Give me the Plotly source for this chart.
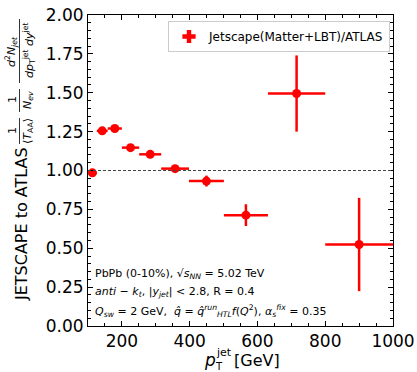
import plotly.graph_objects as go

# JETSCAPE (MATTER+LBT) / ATLAS jet spectrum ratio, PbPb 0-10%
bin_lo = [100, 126, 158, 200, 251, 316, 398, 501, 631, 800]
bin_hi = [126, 158, 200, 251, 316, 398, 501, 631, 800, 1000]
ratio = [0.985, 1.255, 1.27, 1.147, 1.104, 1.012, 0.932, 0.713, 1.495, 0.524]
ratio_err = [0.012, 0.012, 0.012, 0.012, 0.012, 0.015, 0.035, 0.07, 0.245, 0.30]

x_mid = [(a + b) / 2 for a, b in zip(bin_lo, bin_hi)]
x_half = [(b - a) / 2 for a, b in zip(bin_lo, bin_hi)]

W, H = 417, 372
L, R, T, B = 88, 393, 15, 326
FONT = "DejaVu Sans"
RED = "#ff0000"


def px(x):
    return (x - L) / (R - L)


def py(y):
    return (B - y) / (B - T)


fig = go.Figure()

fig.add_trace(go.Scatter(
    x=x_mid, y=ratio,
    mode="markers",
    marker=dict(color=RED, size=9, symbol="circle"),
    error_x=dict(type="data", array=x_half, color=RED, thickness=2.5, width=0),
    error_y=dict(type="data", array=ratio_err, color=RED, thickness=2.5, width=0),
    showlegend=False,
))

# legend entry drawn with a cross-shaped marker like an errorbar glyph
fig.add_trace(go.Scatter(
    x=[None], y=[None], mode="markers",
    marker=dict(color=RED, size=11, symbol="cross"),
    name="Jetscape(Matter+LBT)/ATLAS",
))

# reference line at unity
fig.add_shape(type="line", xref="paper", yref="y", x0=0, x1=1, y0=1, y1=1,
              line=dict(color="#444444", width=1, dash="3px,2px"))

ann = []


def text(x, y, s, size, angle=0, xanchor="center", yanchor="middle"):
    ann.append(dict(x=px(x), y=py(y), xref="paper", yref="paper", text=s,
                    showarrow=False, textangle=angle, xanchor=xanchor,
                    yanchor=yanchor, font=dict(family=FONT, size=size, color="black")))


# y-axis title built from rotated pieces
text(22, 224, "JETSCAPE to ATLAS", 16, angle=-90)
text(12, 131, "1", 11, angle=-90)
text(28, 131, "⟨<i>T</i><sub>AA</sub>⟩", 11, angle=-90)
text(12, 100, "1", 11, angle=-90)
text(28, 100, "<i>N</i><sub><i>ev</i></sub>", 11, angle=-90)
text(11, 51, "<i>d</i><sup>2</sup><i>N</i><sub><i>jet</i></sub>", 11, angle=-90)
text(29, 51, "<i>dp</i><sub>T</sub><sup>jet</sup> <i>dy</i><sup>jet</sup>", 11, angle=-90)
for y0, y1 in [(118, 144), (89, 112), (19, 83)]:
    fig.add_shape(type="line", xref="paper", yref="paper",
                  x0=px(19.5), x1=px(19.5), y0=py(y0), y1=py(y1),
                  line=dict(color="black", width=0.8))

# x-axis title
text(210, 360, "<i>p</i>", 17)
text(224, 352, "jet", 11)
text(219, 366, "T", 10)
text(257, 360, "[GeV]", 16)

# collision system / setup labels
text(93, 274, "PbPb (0-10%), √<i>s</i><sub><i>NN</i></sub> = 5.02 TeV", 11, xanchor="left")
text(93, 292, "<i>anti</i> − <i>k</i><sub><i>t</i></sub>, |<i>y</i><sub><i>jet</i></sub>| &lt; 2.8, R = 0.4",
     11, xanchor="left")
text(93, 311, "<i>Q</i><sub><i>sw</i></sub> = 2 GeV,  <i>q̂</i> = <i>q̂</i><sup><i>run</i></sup><sub><i>HTL</i></sub>"
     "<i>f</i>(<i>Q</i><sup>2</sup>), <i>α</i><sub><i>s</i></sub><sup><i>fix</i></sup> = 0.35",
     11, xanchor="left")

axis_common = dict(
    showline=True, linecolor="black", linewidth=1, mirror="allticks",
    ticks="inside", ticklen=5, tickwidth=1, tickcolor="black",
    showgrid=False, zeroline=False, automargin=False,
    tickfont=dict(family=FONT, size=17, color="black"),
)

fig.update_layout(
    width=W, height=H,
    margin=dict(l=L, r=W - R, t=T, b=H - B),
    paper_bgcolor="white", plot_bgcolor="white",
    font=dict(family=FONT, color="black"),
    xaxis=dict(range=[100, 1000], tickvals=[200, 400, 600, 800, 1000],
               minor=dict(dtick=50, tick0=0, ticks="inside", ticklen=3, tickcolor="black"),
               **axis_common),
    yaxis=dict(range=[0, 2], dtick=0.25, tickformat=".2f",
               minor=dict(dtick=0.05, ticks="inside", ticklen=3, tickcolor="black"),
               **axis_common),
    legend=dict(x=px(390), y=py(21), xanchor="right", yanchor="top",
                bgcolor="white", bordercolor="#cccccc", borderwidth=1,
                font=dict(family=FONT, size=12, color="black")),
    annotations=ann,
)

fig.write_html("out.html")
